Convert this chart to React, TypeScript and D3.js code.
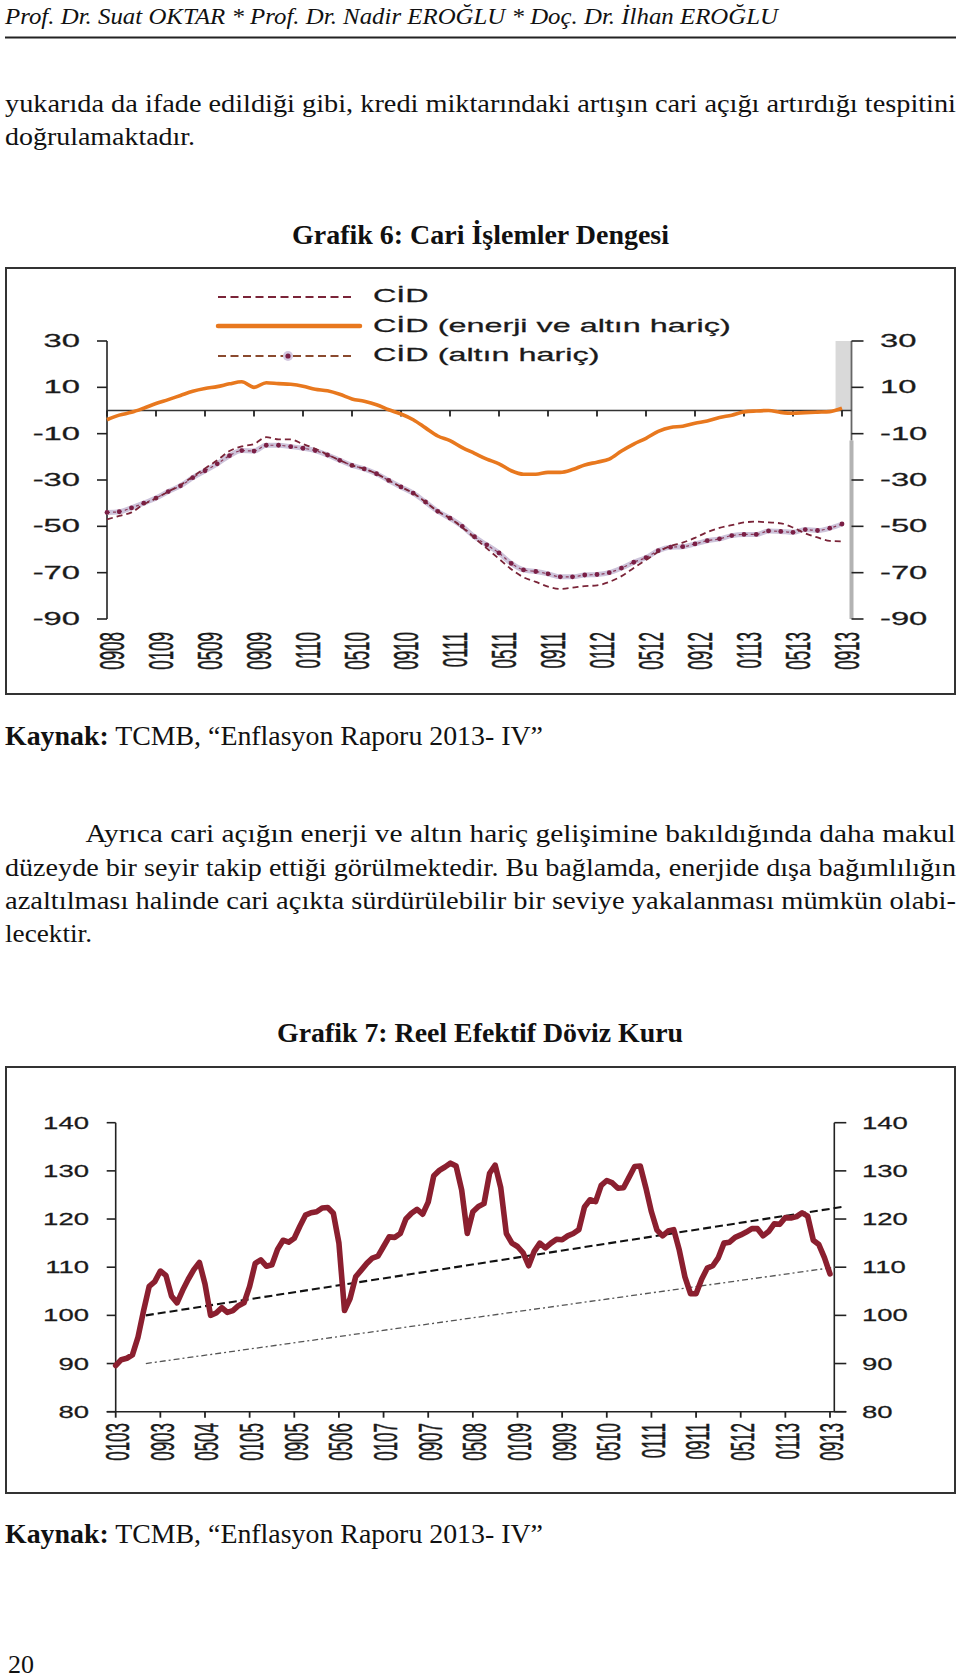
import React from 'react';
import * as d3 from 'd3';

// ---------- Grafik 6 data (monthly, 0908 .. 0913) ----------
const cidTickLabels = ['0908','0109','0509','0909','0110','0510','0910','0111','0511','0911','0112','0512','0912','0113','0513','0913'];
const cidYTicks = [30, 10, -10, -30, -50, -70, -90];
const cidLegend = ['CİD', 'CİD (enerji ve altın hariç)', 'CİD (altın hariç)'];
const cidTotal = [-47,-45.5,-44,-40.5,-38,-35,-32.2,-28.5,-25,-21.5,-17.5,-15.5,-14.5,-11.5,-12.5,-12.5,-14.5,-16.5,-19,-21.5,-23.7,-25.2,-27.3,-30.2,-33,-35.7,-39.5,-43.5,-46.5,-50.5,-55,-59.5,-64,-68.5,-72,-74,-76,-77,-76.5,-75.8,-75.5,-74,-71.5,-68,-64.5,-61,-58.5,-57,-55,-52.5,-50.7,-49.5,-48.3,-48,-48.3,-48.7,-50.5,-53,-54.8,-56.3,-56.5];
const cidCore = [-4,-2,-0.8,1,3,4.7,6.5,8.3,9.5,10.3,11.5,12.4,10,12,11.6,11.3,10.5,9.2,8.5,7,5,4,2.5,0.3,-1.5,-4,-7.5,-11,-13,-16,-18.5,-21,-23,-26,-27.5,-27.5,-26.7,-26.7,-25.5,-23.5,-22.3,-21,-17.5,-14.5,-12,-9,-7.3,-6.8,-5.5,-4.5,-3,-2,-0.6,-0.2,0,-0.8,-1.2,-0.9,-0.7,-0.5,1];
const cidExGold = [-44,-43.7,-42,-40,-37.8,-35,-32.5,-29,-26,-23,-19.5,-17.3,-17.5,-15,-15,-15.6,-16.3,-17.3,-19.2,-21.5,-23.7,-25.2,-27.3,-30.2,-33,-35.7,-39.5,-43.5,-46.5,-50,-54.5,-58,-61.5,-66,-68.8,-69.5,-70.5,-71.8,-71.8,-71,-70.8,-70,-68,-65.5,-63.5,-60.5,-59,-58.8,-57.6,-56.2,-55.4,-54,-53.5,-53.5,-52,-52.2,-52.6,-51.4,-51.8,-50.8,-49];

// ---------- Grafik 7 data (monthly, 0103 .. 0913) ----------
const reerTickLabels = ['0103','0903','0504','0105','0905','0506','0107','0907','0508','0109','0909','0510','0111','0911','0512','0113','0913'];
const reerYTicks = [140, 130, 120, 110, 100, 90, 80];
const reer = [
  89.6,90.8,91.1,91.8,95.5,101,106,107,109.2,108.3,
  104,102.6,105.2,107.5,109.5,111,106.5,100,100.5,101.6,
  100.6,101,102,102.6,106,110.8,111.5,110.2,110.5,113.7,
  115.6,115.2,116,118.5,120.8,121.3,121.5,122.3,122.4,121.2,
  115,101,103.5,108,109.4,110.8,111.9,112.3,114.3,116.3,
  116.2,117,120,121.2,122,121,123.5,129,130.1,130.8,
  131.6,131,126,117,121.5,122.6,123.2,129.5,131.2,126.5,
  117,115,114.3,113,110.3,113.3,115,114,115,115.8,
  115.7,116.5,117,117.8,122.5,124,123.6,127,128,127.5,
  126.4,126.5,128.7,130.9,131,126.5,121.5,117.7,116.5,117.5,
  117.8,113.5,108,104.5,104.5,107.5,109.8,110.3,112,115,
  115.2,116.2,116.7,117.3,118,118,116.5,117.4,119,118.9,
  120.3,120.2,120.5,121.3,120.6,115.6,114.7,112,108.6
];
const upperTrend = [{ m: 5.4, v: 100 }, { m: 130.7, v: 122.6 }];
const lowerTrend = [{ m: 5.4, v: 90 }, { m: 128.9, v: 110 }];

// ---------- Page text ----------
const headerText = 'Prof. Dr. Suat OKTAR * Prof. Dr. Nadir EROĞLU * Doç. Dr. İlhan EROĞLU';
const para1 = ['yukarıda da ifade edildiği gibi, kredi miktarındaki artışın cari açığı artırdığı tespitini', 'doğrulamaktadır.'];
const title6 = 'Grafik 6: Cari İşlemler Dengesi';
const title7 = 'Grafik 7: Reel Efektif Döviz Kuru';
const sourceLabel = 'Kaynak:';
const sourceText = ' TCMB, “Enflasyon Raporu 2013- IV”';
const para2 = [
  'Ayrıca cari açığın enerji ve altın hariç gelişimine bakıldığında daha makul',
  'düzeyde bir seyir takip ettiği görülmektedir. Bu bağlamda, enerjide dışa bağımlılığın',
  'azaltılması halinde cari açıkta sürdürülebilir bir seviye yakalanması mümkün olabi-',
  'lecektir.'
];
const pageNumber = '20';

const SERIF = '"Liberation Serif", "Times New Roman", serif';
const SANS = '"Liberation Sans", Arial, sans-serif';

type STProps = {
  x: number; y: number; size: number; sx: number; anchor?: string; rotate?: boolean;
  children: React.ReactNode; fill?: string; weight?: string | number;
};
function SText({ x, y, size, sx, anchor = 'start', rotate = false, children, fill = '#1a1a1a', weight = 'normal' }: STProps) {
  const t = `translate(${x},${y}) scale(${sx},1)${rotate ? ' rotate(-90)' : ''}`;
  return (
    <text transform={t} fontFamily={SANS} fontSize={size} textAnchor={anchor}
      dominantBaseline="central" fill={fill} fontWeight={weight}
      stroke={fill} strokeWidth={0.25}>{children}</text>
  );
}

function Grafik6() {
  const x = d3.scaleLinear().domain([0, 60]).range([107, 842]);
  const y = d3.scaleLinear().domain([-90, 30]).range([619, 341]);
  const axisL = 107, axisR = 851.5;
  const line = d3.line<number>().x((_, i) => x(i)).y(d => y(d)).curve(d3.curveMonotoneX);
  const maroon = '#7a2438';
  const orange = '#e8781e';
  return (
    <g>
      <rect x={6} y={268} width={949} height={426} fill="#fff" stroke="#333" strokeWidth={2} />
      {/* shaded forecast band at right axis */}
      <rect x={x(59.8) - 4} y={y(30)} width={axisR - (x(59.8) - 4)} height={y(0) - y(30)} fill="#d9d9d9" />
      {/* left axis */}
      <line x1={axisL} x2={axisL} y1={y(30)} y2={y(-90)} stroke="#222" strokeWidth={1.6} />
      {cidYTicks.map(t => (
        <g key={'l' + t}>
          <line x1={axisL - 10} x2={axisL} y1={y(t)} y2={y(t)} stroke="#222" strokeWidth={1.6} />
          <SText x={80} y={y(t)} size={17.7} sx={1.85} anchor="end">{t}</SText>
        </g>
      ))}
      {/* right axis */}
      <line x1={axisR} x2={axisR} y1={y(30)} y2={y(-13)} stroke="#666" strokeWidth={1.8} />
      <line x1={axisR} x2={axisR} y1={y(-13)} y2={y(-90)} stroke="#b3b3b3" strokeWidth={4} />
      {cidYTicks.map(t => (
        <g key={'r' + t}>
          <line x1={axisR} x2={axisR + 12} y1={y(t)} y2={y(t)} stroke="#222" strokeWidth={1.6} />
          <SText x={880} y={y(t)} size={17.7} sx={1.85} anchor="start">{t}</SText>
        </g>
      ))}
      {/* zero line with x ticks */}
      <line x1={axisL} x2={axisR} y1={y(0)} y2={y(0)} stroke="#333" strokeWidth={1.6} />
      {cidTickLabels.map((lab, i) => (
        <g key={lab}>
          <line x1={x(i * 4)} x2={x(i * 4)} y1={y(0)} y2={y(0) + 6} stroke="#222" strokeWidth={1.8} />
          <SText x={x(i * 4) + 5} y={632} size={17} sx={2.05} anchor="end" rotate>{lab}</SText>
        </g>
      ))}
      {/* series */}
      <path d={line(cidExGold) || ''} fill="none" stroke="#cdc3da" strokeWidth={5} strokeLinejoin="round" />
      <path d={line(cidExGold) || ''} fill="none" stroke="#8a3a5a" strokeWidth={1.2} strokeDasharray="3,3" />
      {cidExGold.map((d, i) => (
        <circle key={i} cx={x(i)} cy={y(d)} r={2.4} fill="#7b1f45" />
      ))}
      <path d={line(cidTotal) || ''} fill="none" stroke={maroon} strokeWidth={1.8} strokeDasharray="6,4" />
      <path d={line(cidCore) || ''} fill="none" stroke={orange} strokeWidth={3.6} strokeLinejoin="round" />
      {/* legend */}
      <g>
        <line x1={218} x2={355} y1={297} y2={297} stroke={maroon} strokeWidth={2} strokeDasharray="8,4.5" />
        <line x1={218} x2={360} y1={326} y2={326} stroke={orange} strokeWidth={4.5} strokeLinecap="round" />
        <line x1={218} x2={355} y1={356} y2={356} stroke="#8a4a2e" strokeWidth={2} strokeDasharray="8,4.5" />
        <circle cx={288} cy={356} r={5} fill="#d3c8e0" />
        <circle cx={288} cy={356} r={2.6} fill="#7b1f45" />
        {cidLegend.map((t, i) => (
          <SText key={t} x={373} y={296 + i * 29.5} size={18.6} sx={1.74} anchor="start">{t}</SText>
        ))}
      </g>
    </g>
  );
}

function Grafik7() {
  const x = d3.scaleLinear().domain([0, 128]).range([115.7, 830]);
  const y = d3.scaleLinear().domain([80, 140]).range([1411.7, 1122.7]);
  const axisL = 115.7, axisR = 834.3;
  const line = d3.line<number>().x((_, i) => x(i)).y(d => y(d));
  const trend = d3.line<{ m: number; v: number }>().x(d => x(d.m)).y(d => y(d.v));
  return (
    <g>
      <rect x={6} y={1067} width={949} height={426} fill="#fff" stroke="#333" strokeWidth={2} />
      {/* axes */}
      <line x1={axisL} x2={axisL} y1={y(140)} y2={y(80)} stroke="#222" strokeWidth={1.6} />
      <line x1={axisR} x2={axisR} y1={y(140)} y2={y(80)} stroke="#222" strokeWidth={1.6} />
      <line x1={axisL - 9} x2={axisR + 12} y1={y(80)} y2={y(80)} stroke="#222" strokeWidth={1.6} />
      {reerYTicks.map(t => (
        <g key={t}>
          <line x1={axisL - 9} x2={axisL} y1={y(t)} y2={y(t)} stroke="#222" strokeWidth={1.6} />
          <line x1={axisR} x2={axisR + 12} y1={y(t)} y2={y(t)} stroke="#222" strokeWidth={1.6} />
          <SText x={89} y={y(t)} size={17.2} sx={1.6} anchor="end">{t}</SText>
          <SText x={862} y={y(t)} size={17.2} sx={1.6} anchor="start">{t}</SText>
        </g>
      ))}
      {reerTickLabels.map((lab, i) => (
        <g key={lab}>
          <line x1={x(i * 8)} x2={x(i * 8)} y1={y(80)} y2={y(80) + 6} stroke="#222" strokeWidth={1.8} />
          <SText x={x(i * 8) + 2} y={1423} size={17} sx={2.0} anchor="end" rotate>{lab}</SText>
        </g>
      ))}
      {/* trends */}
      <path d={trend(lowerTrend) || ''} fill="none" stroke="#555" strokeWidth={1.3} strokeDasharray="6,3,2,3" />
      <path d={trend(upperTrend) || ''} fill="none" stroke="#111" strokeWidth={2.1} strokeDasharray="8,4" />
      {/* series */}
      <path d={line(reer) || ''} fill="none" stroke="#8b1f2f" strokeWidth={5.6} strokeLinejoin="round" strokeLinecap="round" />
    </g>
  );
}

export default function App() {
  return (
    <svg width={960} height={1679} viewBox="0 0 960 1679"
      style={{ position: 'absolute', left: 0, top: 0, display: 'block', background: '#fff' }}>
      <rect x={0} y={0} width={960} height={1679} fill="#fff" />
      {/* header */}
      <text x={5} y={24} fontFamily={SERIF} fontStyle="italic" fontSize={24} fill="#111"
        textLength={773} lengthAdjust="spacingAndGlyphs">{headerText}</text>
      <line x1={5} x2={956} y1={37.5} y2={37.5} stroke="#222" strokeWidth={1.8} />
      {/* paragraph 1 */}
      <text x={5} y={112} fontFamily={SERIF} fontSize={26} fill="#111" textLength={951} lengthAdjust="spacingAndGlyphs">{para1[0]}</text>
      <text x={5} y={145} fontFamily={SERIF} fontSize={26} fill="#111" textLength={190} lengthAdjust="spacingAndGlyphs">{para1[1]}</text>
      {/* Grafik 6 */}
      <text x={292} y={244} fontFamily={SERIF} fontWeight="bold" fontSize={26.5} fill="#111" textLength={377} lengthAdjust="spacingAndGlyphs">{title6}</text>
      <Grafik6 />
      <text x={5} y={745} fontFamily={SERIF} fontSize={26.5} fill="#111" textLength={538} lengthAdjust="spacingAndGlyphs">
        <tspan fontWeight="bold">{sourceLabel}</tspan>{sourceText}
      </text>
      {/* paragraph 2 */}
      <text x={85.6} y={842} fontFamily={SERIF} fontSize={26} fill="#111" textLength={870} lengthAdjust="spacingAndGlyphs">{para2[0]}</text>
      <text x={5} y={876} fontFamily={SERIF} fontSize={26} fill="#111" textLength={951} lengthAdjust="spacingAndGlyphs">{para2[1]}</text>
      <text x={5} y={909} fontFamily={SERIF} fontSize={26} fill="#111" textLength={951} lengthAdjust="spacingAndGlyphs">{para2[2]}</text>
      <text x={5} y={942} fontFamily={SERIF} fontSize={26} fill="#111" textLength={87} lengthAdjust="spacingAndGlyphs">{para2[3]}</text>
      {/* Grafik 7 */}
      <text x={277} y={1042} fontFamily={SERIF} fontWeight="bold" fontSize={26.5} fill="#111" textLength={406} lengthAdjust="spacingAndGlyphs">{title7}</text>
      <Grafik7 />
      <text x={5} y={1543} fontFamily={SERIF} fontSize={26.5} fill="#111" textLength={538} lengthAdjust="spacingAndGlyphs">
        <tspan fontWeight="bold">{sourceLabel}</tspan>{sourceText}
      </text>
      <text x={8} y={1673} fontFamily={SERIF} fontSize={26} fill="#111">{pageNumber}</text>
    </svg>
  );
}
